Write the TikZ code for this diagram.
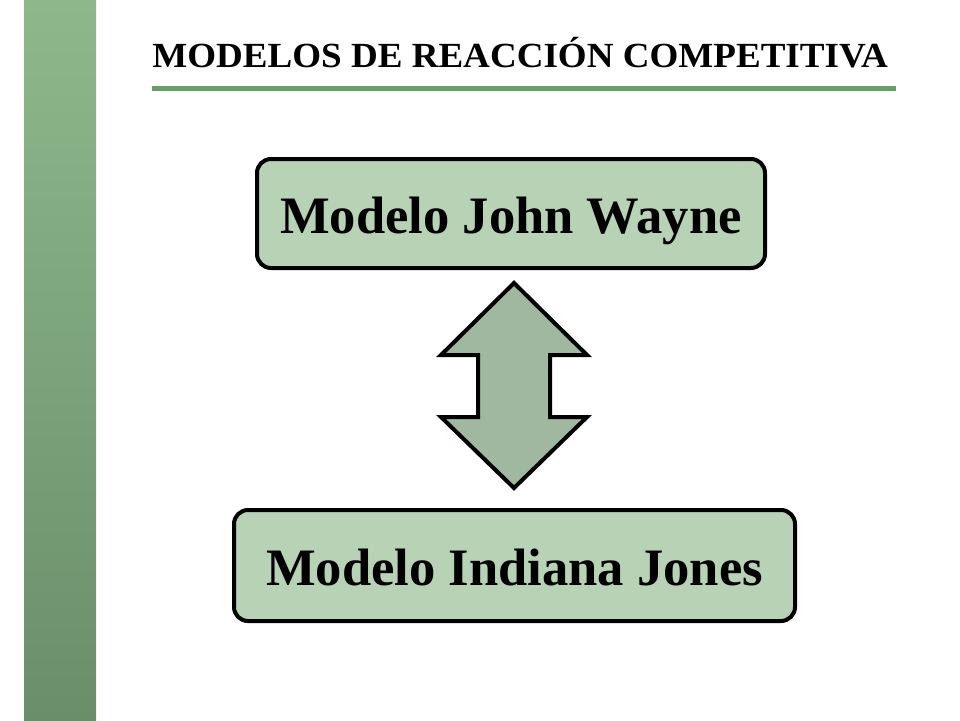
\documentclass[tikz,border=0pt]{standalone}
\usepackage{fontspec}
\setmainfont{Liberation Serif}
\newfontfamily\titlefont{Liberation Serif}[FakeStretch=1.05]
\usepackage{tikz}
\usetikzlibrary{positioning}

\definecolor{barTop}{RGB}{142,184,140}
\definecolor{barBottom}{RGB}{106,142,106}
\definecolor{ruleGreen}{RGB}{102,160,102}
\definecolor{boxFill}{RGB}{184,210,182}
\definecolor{arrowFill}{RGB}{160,184,160}

\begin{document}
\begin{tikzpicture}[
            x = 1pt, y = -1pt, % one unit per pixel, downwards
            line join = miter,
            semithick % line style
        ]

        \tikzstyle{model}=[
            draw = black,
            line width = 4pt,
            rounded corners = 14pt,
            fill = boxFill,
            font = \fontsize{52.6}{60}\selectfont\bfseries,
            text height = 39pt,
            text depth = 0pt,
            inner sep = 0pt
        ]

        \useasboundingbox (0,0) rectangle (960,720);

	% side bar
        \shade[top color = barTop, bottom color = barBottom] (24,0) rectangle (96,720);

	% title
        \node[anchor = base west, inner sep = 0pt,
              font = \titlefont\fontsize{35.3}{40}\selectfont\bfseries] (TT) at (152,67)
              {MODELOS DE REACCIÓN COMPETITIVA};
        \draw[ruleGreen, line width = 5pt] (152,88) -- (896,88);

	% models
        \node[model, minimum width = 508pt, minimum height = 109pt] (JW) at (511,213.5) {Modelo John Wayne};
        \node[model, minimum width = 561pt, minimum height = 111pt] (IJ) at (514.5,565.5) {Modelo Indiana Jones};

	% double arrow
        \draw[fill = arrowFill, line width = 4pt]
            (514,283) -- (587,355) -- (550,355) -- (550,417) -- (587,417) -- (514,488)
            -- (441,417) -- (478,417) -- (478,355) -- (441,355) -- cycle;

  \end{tikzpicture}
\end{document}
